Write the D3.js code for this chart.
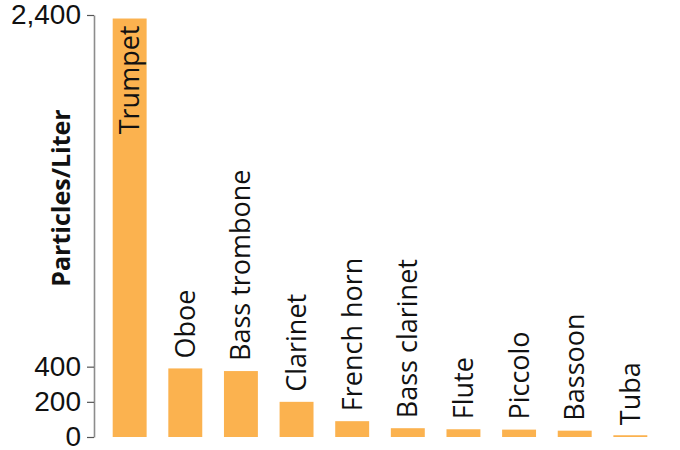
<!DOCTYPE html>
<html>
<head>
<meta charset="utf-8">
<script src="https://cdn.jsdelivr.net/npm/d3@7"></script>
<style>
  body { margin: 0; background: #fff; }
  svg { display: block; font-family: 'Open Sans', sans-serif; }
</style>
</head>
<body>
<div id="chart"></div>
<script>
let instruments = ['Trumpet', 'Oboe', 'Bass trombone', 'Clarinet', 'French horn',
  'Bass clarinet', 'Flute', 'Piccolo', 'Bassoon', 'Tuba']

let particles = [2380, 390, 375, 200, 90, 50, 44, 42, 36, 10]

let tickValues = [0, 200, 400, 2400]

let data = instruments.map((d, i) => [d, particles[i]])

let width = 680
let height = 450

let xScale = d3.scaleBand()
  .domain(instruments)
  .range([96, 664])
  .paddingInner(0.39)
  .paddingOuter(0.3)

let yScale = d3.scaleLinear()
  .domain([0, 2400])
  .range([437, 15])

let svg = d3.select('#chart').append('svg')
  .attr('width', width)
  .attr('height', height)

// y axis
let yAxis = svg.append('g')
  .attr('class', 'y axis')
  .attr('transform', 'translate(94,0)')
  .call(d3.axisLeft(yScale)
    .tickValues(tickValues)
    .tickFormat(d3.format(','))
    .tickSize(7)
    .tickPadding(6)
    .tickSizeOuter(0))

yAxis.select('.domain')
  .attr('stroke', '#8c8c8c')
  .attr('stroke-width', 1.6)
yAxis.selectAll('.tick line')
  .attr('stroke', '#555')
  .attr('stroke-width', 1.2)
yAxis.selectAll('.tick text')
  .attr('fill', '#111')
  .style('font-size', '28px')

svg.append('text')
  .attr('transform', 'translate(70,198) rotate(-90)')
  .attr('text-anchor', 'middle')
  .style('font-size', '25px')
  .style('font-weight', 'bold')
  .attr('fill', '#111')
  .text('Particles/Liter')

// bars
svg.selectAll('.bar')
  .data(data)
  .enter().append('rect')
  .attr('class', 'bar')
  .attr('x', d => xScale(d[0]))
  .attr('y', d => yScale(d[1]))
  .attr('width', xScale.bandwidth())
  .attr('height', d => yScale(0) - yScale(d[1]))
  .attr('fill', '#fbb24f')

// labels, the tallest one sits inside its bar
svg.selectAll('.label')
  .data(data)
  .enter().append('text')
  .attr('class', 'label')
  .attr('transform', (d, i) => {
    let x = xScale(d[0]) + xScale.bandwidth() / 2
    let y = i === 0 ? yScale(d[1]) + 7 : yScale(d[1]) - 10
    return 'translate(' + x + ',' + y + ') rotate(-90)'
  })
  .attr('dy', '0.35em')
  .attr('text-anchor', (d, i) => i === 0 ? 'end' : 'start')
  .style('font-size', '27px')
  .attr('fill', '#111')
  .text(d => d[0])
</script>
</body>
</html>
